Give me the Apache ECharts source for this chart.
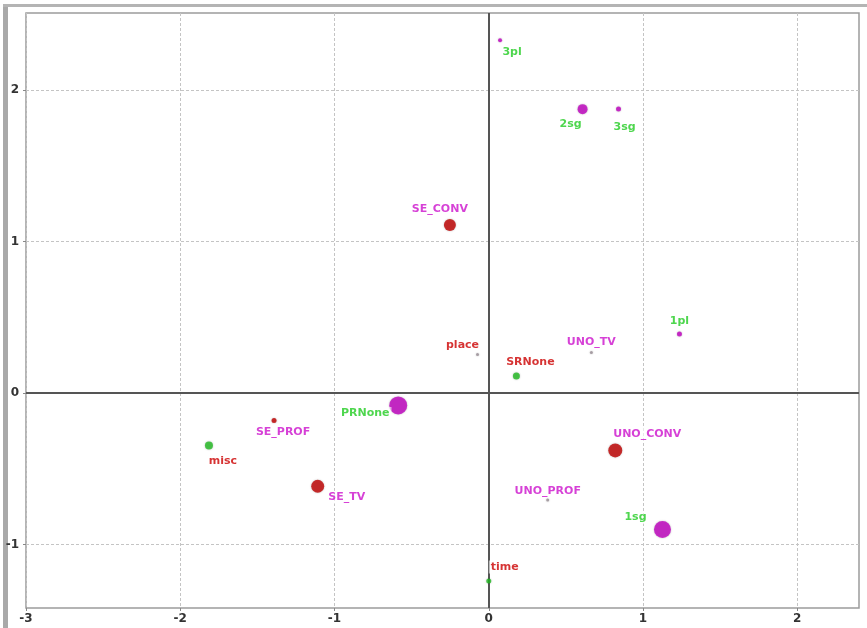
<!DOCTYPE html>
<html>
<head>
<meta charset="utf-8">
<script src="https://cdn.jsdelivr.net/npm/echarts@6/dist/echarts.min.js"></script>
<style>
  html, body { margin: 0; padding: 0; background: #fff; }
  #chart { width: 867px; height: 628px; }
</style>
</head>
<body>
<div id="chart"></div>
<script>
// Category points on the first two dimensions
const names = ['3pl', '2sg', '3sg', '1pl', 'PRNone', '1sg', 'UNO_TV', 'UNO_PROF',
               'SE_CONV', 'SE_PROF', 'SE_TV', 'UNO_CONV', 'place', 'SRNone', 'misc', 'time'];
const dim1 = [0.073, 0.608, 0.841, 1.236, -0.587, 1.126, 0.665, 0.382,
              -0.252, -1.392, -1.109, 0.820, -0.073, 0.179, -1.814, 0.000];
const dim2 = [2.33, 1.875, 1.876, 0.389, -0.082, -0.902, 0.268, -0.706,
              1.109, -0.181, -0.616, -0.379, 0.255, 0.112, -0.346, -1.241];
const xTicks = [-3, -2, -1, 0, 1, 2];
const yTicks = [-1, 0, 1, 2];

// Marker / label appearance per point
const MAG = '#c000c0', RED = '#c00000', GRN = '#22bb22', GRY = '#9a8f96';
const LMAG = '#cc11cc', LRED = '#cc0000', LGRN = '#22cc22';
const look = {
  '3pl':      { size: 4,  color: MAG, lc: LGRN, off: [12, 12] },
  '2sg':      { size: 10, color: MAG, lc: LGRN, off: [-12, 15] },
  '3sg':      { size: 5,  color: MAG, lc: LGRN, off: [6, 18] },
  '1pl':      { size: 5,  color: MAG, lc: LGRN, off: [0, -13] },
  'PRNone':   { size: 18, color: MAG, lc: LGRN, off: [-33, 8] },
  '1sg':      { size: 17, color: MAG, lc: LGRN, off: [-27, -12] },
  'UNO_TV':   { size: 3,  color: GRY, lc: LMAG, off: [0, -10] },
  'UNO_PROF': { size: 3,  color: GRY, lc: LMAG, off: [0, -9] },
  'SE_CONV':  { size: 12, color: RED, lc: LMAG, off: [-10, -16] },
  'SE_PROF':  { size: 5,  color: RED, lc: LMAG, off: [9, 12] },
  'SE_TV':    { size: 13, color: RED, lc: LMAG, off: [29, 11] },
  'UNO_CONV': { size: 14, color: RED, lc: LMAG, off: [32, -16] },
  'place':    { size: 3,  color: GRY, lc: LRED, off: [-15, -9] },
  'SRNone':   { size: 7,  color: GRN, lc: LRED, off: [14, -14] },
  'misc':     { size: 8,  color: GRN, lc: LRED, off: [14, 16] },
  'time':     { size: 5,  color: GRN, lc: LRED, off: [16, -14] }
};

const points = names.map((n, i) => {
  const s = look[n];
  return {
    name: n,
    value: [dim1[i], dim2[i]],
    symbolSize: s.size,
    itemStyle: { color: s.color, shadowBlur: 2, shadowColor: 'rgba(0,0,0,0.3)' },
    label: {
      show: true, formatter: n, position: 'inside', offset: s.off,
      color: s.lc, align: 'center', verticalAlign: 'middle',
      fontFamily: 'DejaVu Sans', fontSize: 11, fontWeight: 'bold',
      backgroundColor: 'rgba(255,255,255,0.75)', padding: [1, 2]
    }
  };
});

const chart = echarts.init(document.getElementById('chart'), null, { renderer: 'canvas' });

const gridLine = { show: true, lineStyle: { color: '#c4c4c4', type: [3, 2], width: 1 } };
const tickLabel = { color: '#333', fontFamily: 'DejaVu Sans', fontSize: 12, fontWeight: 'bold' };

chart.setOption({
  animation: false,
  backgroundColor: '#fff',
  grid: { left: 26, right: 8, top: 13, bottom: 20, show: true, borderColor: '#9c9c9c', borderWidth: 1.5 },
  xAxis: {
    type: 'value', min: -3, max: 2.40, interval: 1,
    axisLine: { show: false, onZero: false },
    axisTick: { show: true, length: 3, lineStyle: { color: '#888' }, customValues: xTicks },
    axisLabel: Object.assign({ margin: 5, customValues: xTicks }, tickLabel),
    splitLine: gridLine
  },
  yAxis: {
    type: 'value', min: -1.42, max: 2.51,
    axisLine: { show: false, onZero: false },
    axisTick: { show: true, length: 3, lineStyle: { color: '#888' }, customValues: yTicks },
    axisLabel: Object.assign({ margin: 7, customValues: yTicks }, tickLabel),
    splitLine: gridLine
  },
  graphic: [
    { type: 'rect', left: 3, top: 4, shape: { width: 5, height: 624 }, style: { fill: '#a9a9a9' }, silent: true },
    { type: 'rect', left: 3, top: 4, shape: { width: 864, height: 3 }, style: { fill: '#b4b4b4' }, silent: true }
  ],
  series: [{
    type: 'scatter',
    symbol: 'circle',
    data: points,
    z: 5,
    markLine: {
      silent: true, symbol: 'none', animation: false,
      label: { show: false },
      lineStyle: { color: '#555', type: 'solid', width: 2 },
      data: [{ xAxis: 0 }, { yAxis: 0 }]
    }
  }]
});
</script>
</body>
</html>
